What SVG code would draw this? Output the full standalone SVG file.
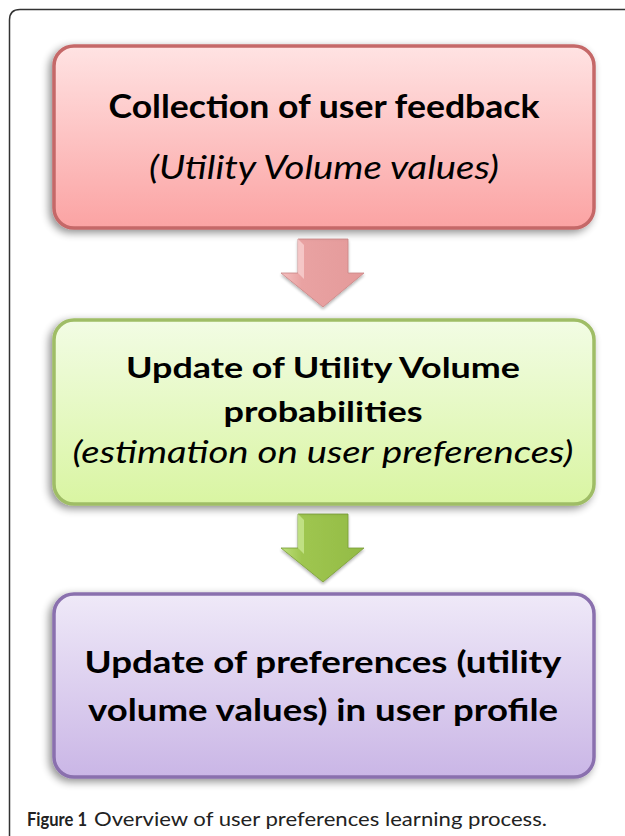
<svg xmlns="http://www.w3.org/2000/svg" width="625" height="836" viewBox="0 0 625 836">
  <defs>
    <linearGradient id="gRed" x1="0" y1="0" x2="0" y2="1">
      <stop offset="0" stop-color="#ffe3e3"/>
      <stop offset="1" stop-color="#fba3a3"/>
    </linearGradient>
    <linearGradient id="gGreen" x1="0" y1="0" x2="0" y2="1">
      <stop offset="0" stop-color="#f2fce4"/>
      <stop offset="1" stop-color="#d9f5a2"/>
    </linearGradient>
    <linearGradient id="gPurple" x1="0" y1="0" x2="0" y2="1">
      <stop offset="0" stop-color="#efe9f8"/>
      <stop offset="1" stop-color="#cab6e6"/>
    </linearGradient>
    <linearGradient id="aRed" x1="0" y1="0" x2="1" y2="0">
      <stop offset="0" stop-color="#f4c0c0"/>
      <stop offset="0.25" stop-color="#e9a2a2"/>
      <stop offset="1" stop-color="#e49a9a"/>
    </linearGradient>
    <linearGradient id="aGreen" x1="0" y1="0" x2="1" y2="0">
      <stop offset="0" stop-color="#bde07a"/>
      <stop offset="0.25" stop-color="#9fc650"/>
      <stop offset="1" stop-color="#93bb45"/>
    </linearGradient>
    <filter id="shadow" x="-10%" y="-15%" width="120%" height="135%">
      <feGaussianBlur in="SourceAlpha" stdDeviation="4"/>
      <feOffset dx="-3" dy="3" result="b"/>
      <feComponentTransfer><feFuncA type="linear" slope="0.45"/></feComponentTransfer>
      <feMerge><feMergeNode/><feMergeNode in="SourceGraphic"/></feMerge>
    </filter>
    <filter id="ashadow" x="-20%" y="-20%" width="140%" height="140%">
      <feGaussianBlur in="SourceAlpha" stdDeviation="1.5"/>
      <feOffset dx="0" dy="1.5"/>
      <feComponentTransfer><feFuncA type="linear" slope="0.3"/></feComponentTransfer>
      <feMerge><feMergeNode/><feMergeNode in="SourceGraphic"/></feMerge>
    </filter>
    <style>
      .frame { fill: none; stroke: #333; stroke-width: 1.5; }
      .box { stroke-width: 3.5; filter: url(#shadow); }
      .t { font-family: Lato, "Liberation Sans", Arial, sans-serif; font-weight: bold; text-anchor: middle; fill: #000; }
      .i { font-family: Lato, "Liberation Sans", Arial, sans-serif; font-style: italic; text-anchor: middle; fill: #000; }
      .cap { font-family: Lato, "Open Sans", "Liberation Sans", sans-serif; font-size: 19px; fill: #222; }
    </style>
  </defs>

  <rect width="625" height="836" fill="#fff"/>
  <path class="frame" d="M9.5,836 V20 Q9.5,9.5 20,9.5 H625"/>

  <g id="connectors">
    <g id="arrow1" filter="url(#ashadow)">
      <path d="M298,239 H348 V273 H364 L323,307 L281,273 H298 Z" fill="url(#aRed)" stroke="#c98585" stroke-width="0.8"/>
      <path d="M298,239 L304,245 V279 L298,273 Z" fill="#f7d0d0" opacity="0.8"/>
    </g>
    <g id="arrow2" filter="url(#ashadow)">
      <path d="M298,514 H348 V548 H364 L323,582 L281,548 H298 Z" fill="url(#aGreen)" stroke="#7a9c38" stroke-width="0.8"/>
      <path d="M298,514 L304,520 V554 L298,548 Z" fill="#c8e690" opacity="0.8"/>
    </g>
  </g>

  <g id="node1">
    <rect class="box" x="54" y="46" width="540" height="182" rx="20" fill="url(#gRed)" stroke="#c56868"/>
    <text class="t" x="324" y="118" font-size="32" textLength="431" lengthAdjust="spacingAndGlyphs">Collection of user feedback</text>
    <text class="i" x="324" y="179" font-size="33" textLength="350" lengthAdjust="spacingAndGlyphs">(Utility Volume values)</text>
  </g>

  <g id="node2">
    <rect class="box" x="54" y="320" width="540" height="184" rx="20" fill="url(#gGreen)" stroke="#9fbd66"/>
    <text class="t" x="323" y="378" font-size="29" textLength="394" lengthAdjust="spacingAndGlyphs">Update of Utility Volume</text>
    <text class="t" x="323" y="422" font-size="29" textLength="199" lengthAdjust="spacingAndGlyphs">probabilities</text>
    <text class="i" x="323" y="463" font-size="31" textLength="501" lengthAdjust="spacingAndGlyphs">(estimation on user preferences)</text>
  </g>

  <g id="node3">
    <rect class="box" x="54" y="594" width="540" height="183" rx="20" fill="url(#gPurple)" stroke="#8a70ae"/>
    <text class="t" x="323" y="673" font-size="31" textLength="477" lengthAdjust="spacingAndGlyphs">Update of  preferences (utility</text>
    <text class="t" x="323" y="721" font-size="31" textLength="470" lengthAdjust="spacingAndGlyphs">volume values) in user profile</text>
  </g>

  <g id="caption">
    <text class="cap" x="27" y="826"><tspan font-weight="bold" textLength="60" lengthAdjust="spacingAndGlyphs">Figure 1</tspan><tspan x="94" textLength="453" lengthAdjust="spacingAndGlyphs">Overview of user preferences learning process.</tspan></text>
  </g>
</svg>
